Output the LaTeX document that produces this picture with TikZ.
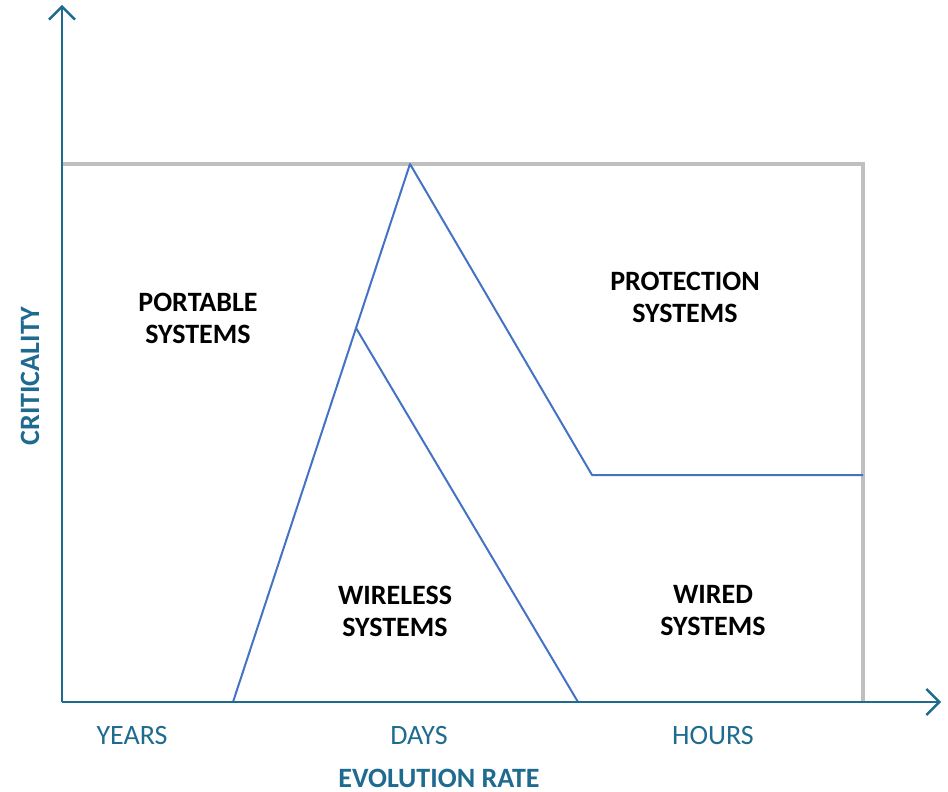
\documentclass[tikz,border=0pt]{standalone}
\usepackage{fontspec}
\setmainfont{Carlito}
\usetikzlibrary{arrows.meta}
\definecolor{axisblue}{RGB}{31,107,143}
\definecolor{zoneblue}{RGB}{68,114,196}
\definecolor{framegray}{RGB}{191,191,191}
\begin{document}
\begin{tikzpicture}[x=1pt,y=-1pt,
  axis/.style={draw=axisblue,line width=2.6pt,-{Straight Barb[length=13pt,width=26pt,line width=2.4pt]}},
  frame/.style={draw=framegray,line width=4pt},
  zone/.style={draw=zoneblue,line width=2pt,line join=round},
  region/.style={font=\fontsize{28}{32}\selectfont\bfseries,align=center,text=black},
  ticklabel/.style={font=\fontsize{28}{32}\selectfont,text=axisblue},
  axislabel/.style={font=\fontsize{28}{32}\selectfont\bfseries,text=axisblue,inner sep=0pt}]
\useasboundingbox (0,0) rectangle (948,792);
% reference points
\coordinate (o) at (62,702);
\coordinate (ytip) at (62,5);
\coordinate (xtip) at (941,702);
\coordinate (ftl) at (62,164);
\coordinate (ftr) at (863,164);
\coordinate (fbr) at (863,702);
\coordinate (pL) at (233,702);
\coordinate (peak) at (410,164);
\coordinate (knee) at (592,475);
\coordinate (edge) at (863,475);
\coordinate (inner) at (356,328);
\coordinate (pR) at (578,702);
% gray frame
\draw[frame] (ftl) -- (ftr) -- (fbr);
% zone boundaries
\draw[zone] (pL) -- (peak) -- (knee) -- (edge);
\draw[zone] (inner) -- (pR);
% axes
\draw[axis] (o) -- (ytip);
\draw[axis] (o) -- (xtip);
% region names
\node[region] (portable) at (198,318) {PORTABLE\\SYSTEMS};
\node[region] (protection) at (685,297) {PROTECTION\\SYSTEMS};
\node[region] (wireless) at (395,611) {WIRELESS\\SYSTEMS};
\node[region] (wired) at (713,611) {WIRED\\SYSTEMS};
% axis texts
\node[ticklabel] (years) at (132,736) {YEARS};
\node[ticklabel] (days) at (419,736) {DAYS};
\node[ticklabel] (hours) at (713,736) {HOURS};
\node[axislabel] (xlab) at (439,778) {EVOLUTION RATE};
\node[axislabel,rotate=90] (ylab) at (30,376) {CRITICALITY};
\end{tikzpicture}
\end{document}
